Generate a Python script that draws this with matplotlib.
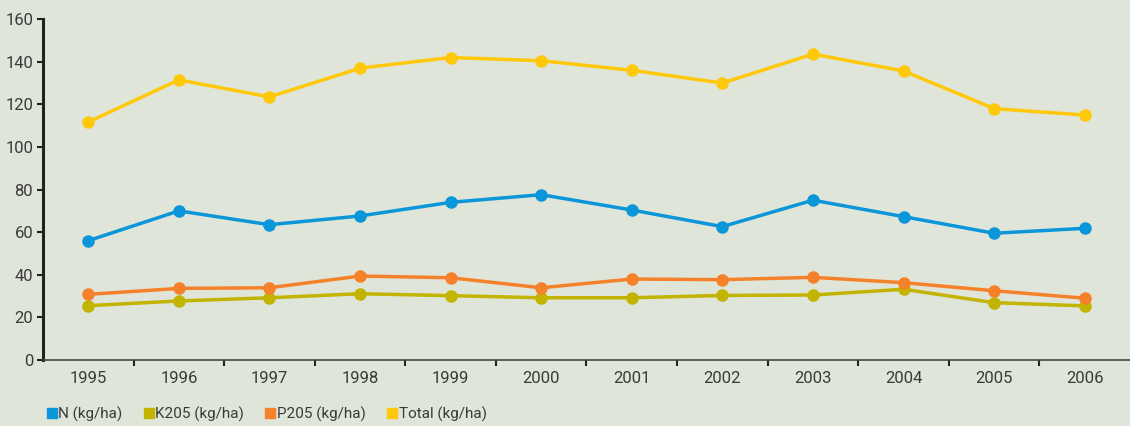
import matplotlib.pyplot as plt
from matplotlib.lines import Line2D
import numpy as np

years = ["1995", "1996", "1997", "1998", "1999", "2000",
         "2001", "2002", "2003", "2004", "2005", "2006"]
n_vals = [56, 70, 63.5, 67.6, 74, 77.6, 70.4, 62.6, 75, 67.3, 59.5, 61.8]
k_vals = [25.5, 27.7, 29.2, 31.1, 30.2, 29.2, 29.2, 30.3, 30.5, 33.2, 26.9, 25.4]
p_vals = [30.8, 33.6, 33.9, 39.4, 38.6, 33.9, 38.0, 37.7, 38.8, 36.3, 32.5, 29.0]
total_vals = [111.7, 131.5, 123.5, 137, 142, 140.5, 136, 130, 143.6, 135.7, 118, 115]

series = [
    ("N (kg/ha)", n_vals, "#0a96d8"),
    ("K205 (kg/ha)", k_vals, "#c2b400"),
    ("P205 (kg/ha)", p_vals, "#f5822a"),
    ("Total (kg/ha)", total_vals, "#ffc80a"),
]

bg = "#e0e5da"
txt = "#3a3a3a"
plt.rcParams["font.family"] = ["Roboto", "DejaVu Sans"]

fig = plt.figure(figsize=(11.3, 4.26), dpi=100, facecolor=bg)
ax = fig.add_axes([0.038, 0.155, 0.962, 0.80], facecolor=bg)

x = np.arange(len(years))
for label, vals, color in series:
    ax.plot(x, vals, color=color, lw=2.5, marker="o", ms=8, label=label,
            solid_joinstyle="round")

ax.set_xlim(-0.5, len(years) - 0.5)
ax.set_ylim(0, 160)
ax.set_yticks(range(0, 161, 20))
ax.set_xticks(x)
ax.set_xticklabels(years)
ax.set_xticks(np.arange(0.5, len(years) - 0.5, 1), minor=True)
ax.tick_params(axis="x", which="major", length=0, pad=8, labelsize=12, labelcolor=txt)
ax.tick_params(axis="x", which="minor", length=4, width=1.5, color="#222222", direction="out")
ax.tick_params(axis="y", length=4, width=1.5, color="#222222", labelsize=12,
               labelcolor=txt, pad=3)

for s in ["top", "right"]:
    ax.spines[s].set_visible(False)
ax.spines["left"].set_linewidth(2.2)
ax.spines["left"].set_color("#222222")
ax.spines["bottom"].set_linewidth(1.2)
ax.spines["bottom"].set_color("#444444")

handles = [Line2D([], [], ls="none", marker="s", ms=7, color=c) for _, _, c in series]
labels = [l for l, _, _ in series]
fig.legend(handles, labels, loc="lower left", bbox_to_anchor=(0.028, -0.022), ncol=4,
           frameon=False, handletextpad=0.05, columnspacing=1.3, handlelength=0.8,
           fontsize=11, labelcolor=txt)

fig.savefig("out.png", dpi=100, facecolor=bg)
